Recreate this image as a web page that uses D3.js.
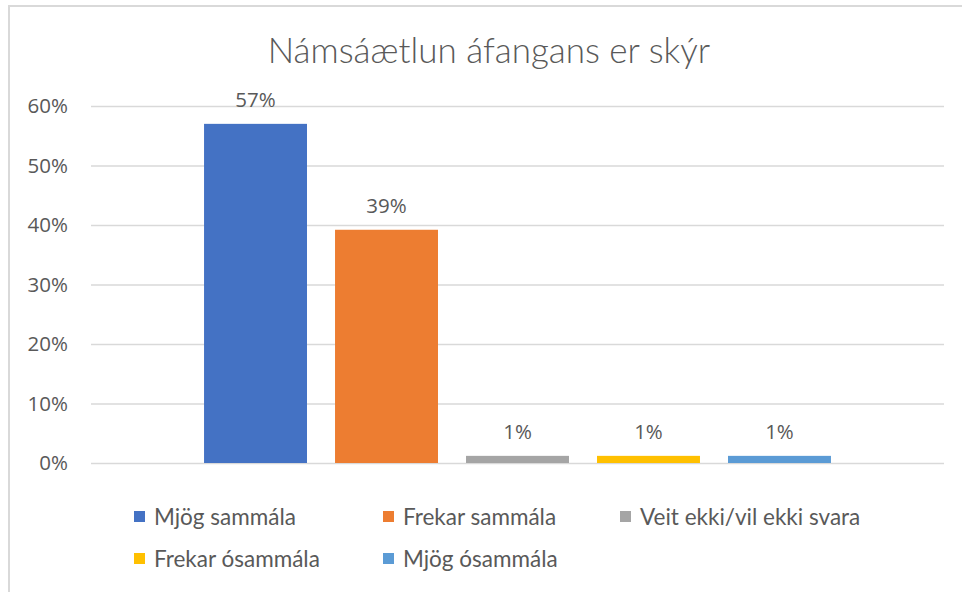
<!DOCTYPE html>
<html>
<head>
<meta charset="utf-8">
<script src="https://cdn.jsdelivr.net/npm/d3@7"></script>
<style>
  html, body { margin: 0; padding: 0; background: #fff; }
  svg { display: block; }
</style>
</head>
<body>
<svg id="chart" width="962" height="592"></svg>
<script>
// ---- data ----
const title = "Námsáætlun áfangans er skýr";
const series = ["Mjög sammála", "Frekar sammála", "Veit ekki/vil ekki svara", "Frekar ósammála", "Mjög ósammála"];
const values = [0.57, 0.392, 0.012, 0.012, 0.012];
const colors = ["#4472C4", "#ED7D31", "#A5A5A5", "#FFC000", "#5B9BD5"];
const yTicks = [0, 0.1, 0.2, 0.3, 0.4, 0.5, 0.6];

// ---- layout ----
const W = 962, H = 592;
const plot = { left: 91, right: 944, top: 106, bottom: 463 };
const svg = d3.select("#chart");
const textColor = "#595959";
const labelFont = "'Open Sans', 'Noto Sans', sans-serif";
const legendFont = "Lato, 'Open Sans', sans-serif";

// outer frame
svg.append("rect")
  .attr("x", 9).attr("y", 6).attr("width", W + 20).attr("height", H + 20)
  .attr("fill", "#fff").attr("stroke", "#d9d9d9").attr("stroke-width", 2);

// title
svg.append("text")
  .attr("x", 489).attr("y", 63)
  .attr("text-anchor", "middle")
  .attr("font-family", legendFont)
  .attr("font-weight", 300)
  .attr("font-size", 35)
  .attr("fill", textColor)
  .text(title);

// scales
const y = d3.scaleLinear().domain([0, 0.6]).range([plot.bottom, plot.top]);
const x = d3.scaleBand().domain(series).range([plot.left, plot.right])
  .paddingInner(0.214).paddingOuter(0.863);

// grid + y axis
const yAxis = d3.axisLeft(y).tickValues(yTicks).tickFormat(d3.format(".0%"))
  .tickSize(-(plot.right - plot.left)).tickPadding(23);
const gy = svg.append("g").attr("transform", `translate(${plot.left},0)`).call(yAxis);
gy.select(".domain").remove();
gy.selectAll(".tick line").attr("stroke", "#d9d9d9").attr("stroke-width", 1.5);
gy.selectAll(".tick text")
  .attr("fill", textColor)
  .attr("font-family", labelFont)
  .attr("font-size", 20.5);

// bars
svg.append("g").selectAll("rect")
  .data(series)
  .join("rect")
  .attr("x", d => x(d))
  .attr("width", x.bandwidth())
  .attr("y", (d, i) => y(values[i]))
  .attr("height", (d, i) => y(0) - y(values[i]))
  .attr("fill", (d, i) => colors[i]);

// value labels
svg.append("g").selectAll("text")
  .data(series)
  .join("text")
  .attr("x", d => x(d) + x.bandwidth() / 2)
  .attr("y", (d, i) => y(values[i]) - 17)
  .attr("text-anchor", "middle")
  .attr("font-family", labelFont)
  .attr("font-size", 20.5)
  .attr("fill", textColor)
  .text((d, i) => d3.format(".0%")(values[i]));

// legend
const legendCols = [134, 383, 620];
const legendRows = [517, 559];
const lg = svg.append("g").selectAll("g")
  .data(series)
  .join("g")
  .attr("transform", (d, i) => {
    const r = i < 3 ? 0 : 1;
    const c = i < 3 ? i : i - 3;
    return `translate(${legendCols[c]},${legendRows[r]})`;
  });
lg.append("rect")
  .attr("x", 0).attr("y", -6).attr("width", 11).attr("height", 11)
  .attr("fill", (d, i) => colors[i]);
lg.append("text")
  .attr("x", 20).attr("y", 0)
  .attr("dy", "0.35em")
  .attr("font-family", legendFont)
  .attr("font-size", 22.5)
  .attr("fill", textColor)
  .text(d => d);
</script>
</body>
</html>
